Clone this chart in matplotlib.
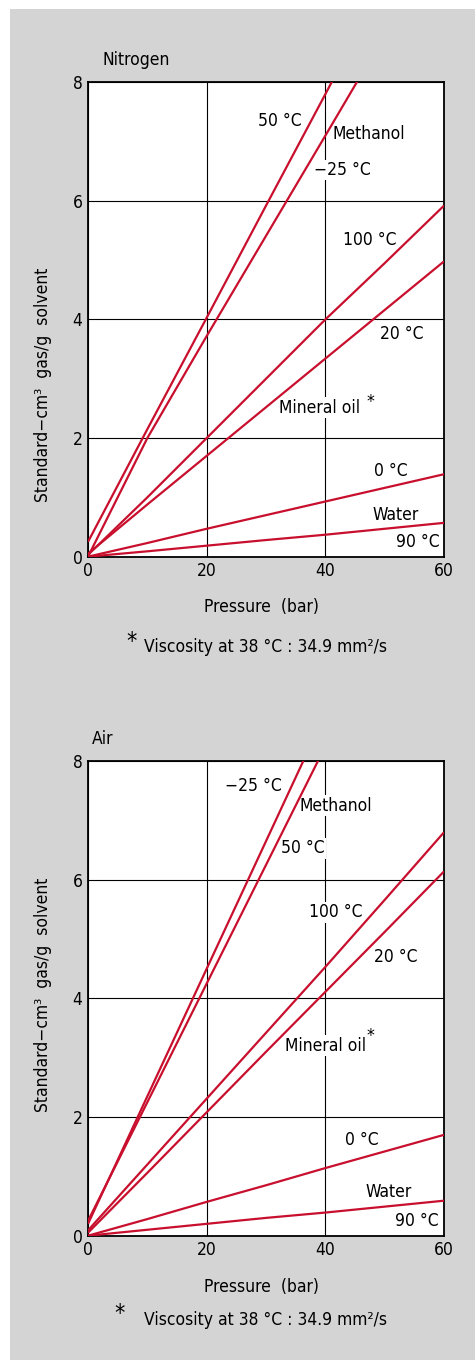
import matplotlib.pyplot as plt
from matplotlib.patches import Rectangle

plt.rcParams['font.family'] = ['DejaVu Sans']
plt.rcParams['font.stretch'] = 'condensed'

# pressure (bar) and solubility (standard-cm3 gas / g solvent)
n2_p = [0, 10, 20, 30, 40, 50, 60]
n2_methanol_50 = [0.25, 2.15, 4.03, 5.92, 7.80, 9.70, 11.6]
n2_methanol_m25 = [0.0, 2.0, 3.72, 5.41, 7.10, 8.80, 10.5]
n2_oil_100 = [0.03, 1.0, 2.0, 3.0, 4.0, 4.95, 5.92]
n2_oil_20 = [0.05, 0.88, 1.70, 2.52, 3.34, 4.16, 4.98]
n2_water_0 = [0.0, 0.23, 0.47, 0.70, 0.93, 1.16, 1.39]
n2_water_90 = [0.0, 0.09, 0.185, 0.28, 0.37, 0.47, 0.57]

air_p = [0, 10, 20, 30, 40, 50, 60]
air_methanol_m25 = [0.2, 2.35, 4.5, 6.65, 8.8, 10.95, 13.1]
air_methanol_50 = [0.25, 2.25, 4.25, 6.25, 8.25, 10.25, 12.25]
air_oil_100 = [0.09, 1.2, 2.31, 3.42, 4.53, 5.66, 6.8]
air_oil_20 = [0.05, 1.06, 2.08, 3.10, 4.11, 5.12, 6.14]
air_water_0 = [0.0, 0.28, 0.57, 0.85, 1.14, 1.42, 1.70]
air_water_90 = [0.0, 0.10, 0.20, 0.30, 0.39, 0.49, 0.59]

x_ticks = [0, 20, 40, 60]
y_ticks = [0, 2, 4, 6, 8]

red = '#c8102e'
bg = '#d3d4d3'
fs = 12.5

fig = plt.figure(figsize=(4.75, 13.6), dpi=100)
fig.patch.set_facecolor('white')
fig.add_artist(Rectangle((10 / 475, 0), 1, 1 - 9 / 1360, transform=fig.transFigure,
                         facecolor=bg, edgecolor='none', zorder=0))


def panel(rect, p, curves, labels, title, title_x, title_y, ylab_y, xlab_y, note_y, star_x):
    ax = fig.add_axes(rect)
    ax.set_facecolor('white')
    for vals in curves:
        ax.plot(p, vals, color=red, lw=1.6, zorder=4, solid_capstyle='butt')
    ax.set_xlim(0, 60)
    ax.set_ylim(0, 8)
    ax.set_xticks(x_ticks)
    ax.set_yticks(y_ticks)
    ax.tick_params(length=0, labelsize=fs, pad=4)
    ax.grid(True, color='black', lw=0.8)
    ax.set_axisbelow(True)
    for s in ax.spines.values():
        s.set_linewidth(1.3)
    for txt, x, y in labels:
        ax.text(x, y, txt, fontsize=fs, ha='center', va='center', zorder=3,
                bbox=dict(facecolor='white', edgecolor='none', pad=1))
    fig.text(title_x / 475, 1 - title_y / 1360, title, fontsize=fs, ha='left', va='center')
    fig.text(43 / 475, 1 - ylab_y / 1360, 'Standard\u2212cm\u00b3  gas/g  solvent', fontsize=fs,
             rotation=90, ha='center', va='center')
    fig.text(262 / 475, 1 - xlab_y / 1360, 'Pressure  (bar)', fontsize=fs, ha='center', va='center')
    fig.text(star_x / 475, 1 - (note_y - 6) / 1360, '*', fontsize=fs + 4, ha='center', va='center')
    fig.text(144 / 475, 1 - note_y / 1360, 'Viscosity at 38 \u00b0C : 34.9 mm\u00b2/s', fontsize=fs,
             ha='left', va='center')
    return ax


n2_labels = [
    ('50 \u00b0C', 32.4, 7.35),
    ('Methanol', 47.3, 7.13),
    ('\u221225 \u00b0C', 42.8, 6.52),
    ('100 \u00b0C', 47.4, 5.34),
    ('20 \u00b0C', 52.9, 3.75),
    ('Mineral oil', 39.0, 2.51),
    ('*', 47.6, 2.60),
    ('0 \u00b0C', 51.0, 1.45),
    ('Water', 51.9, 0.70),
    ('90 \u00b0C', 55.5, 0.24),
]
air_labels = [
    ('\u221225 \u00b0C', 27.9, 7.58),
    ('Methanol', 41.7, 7.25),
    ('50 \u00b0C', 36.2, 6.53),
    ('100 \u00b0C', 41.7, 5.45),
    ('20 \u00b0C', 51.9, 4.69),
    ('Mineral oil', 40.0, 3.20),
    ('*', 47.6, 3.36),
    ('0 \u00b0C', 46.2, 1.62),
    ('Water', 50.6, 0.74),
    ('90 \u00b0C', 55.4, 0.24),
]

panel([0.1853, 0.5907, 0.7495, 0.3488], n2_p,
      [n2_methanol_50, n2_methanol_m25, n2_oil_100, n2_oil_20, n2_water_0, n2_water_90],
      n2_labels, 'Nitrogen', 102, 60, 385, 607, 647, 132)
panel([0.1853, 0.0914, 0.7495, 0.349], air_p,
      [air_methanol_m25, air_methanol_50, air_oil_100, air_oil_20, air_water_0, air_water_90],
      air_labels, 'Air', 92, 739, 995, 1287, 1320, 120)

fig.savefig('out.png', dpi=100)
